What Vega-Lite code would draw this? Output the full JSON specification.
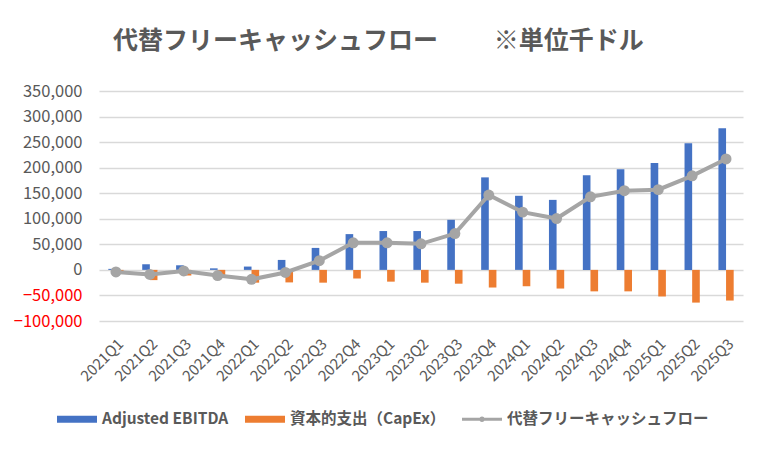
{
  "$schema": "https://vega.github.io/schema/vega-lite/v6.json",
  "width": 644,
  "height": 230,
  "autosize": "none",
  "padding": {"left": 99, "top": 91, "right": 24, "bottom": 131},
  "background": "white",
  "config": {
    "font": "Noto Sans CJK JP",
    "view": {"stroke": null}
  },
  "title": {
    "text": "代替フリーキャッシュフロー　　 ※単位千ドル",
    "anchor": "start",
    "frame": "group",
    "dx": 14,
    "offset": 29,
    "fontSize": 25,
    "fontWeight": "bold",
    "color": "#595959"
  },
  "datasets": {
    "bars": [
      {"q": "2021Q1", "series": "Adjusted EBITDA", "value": 2000},
      {"q": "2021Q1", "series": "資本的支出（CapEx）", "value": -6000},
      {"q": "2021Q2", "series": "Adjusted EBITDA", "value": 11000},
      {"q": "2021Q2", "series": "資本的支出（CapEx）", "value": -20000},
      {"q": "2021Q3", "series": "Adjusted EBITDA", "value": 9000},
      {"q": "2021Q3", "series": "資本的支出（CapEx）", "value": -11000},
      {"q": "2021Q4", "series": "Adjusted EBITDA", "value": 3000},
      {"q": "2021Q4", "series": "資本的支出（CapEx）", "value": -14000},
      {"q": "2022Q1", "series": "Adjusted EBITDA", "value": 6500},
      {"q": "2022Q1", "series": "資本的支出（CapEx）", "value": -25000},
      {"q": "2022Q2", "series": "Adjusted EBITDA", "value": 19500},
      {"q": "2022Q2", "series": "資本的支出（CapEx）", "value": -24500},
      {"q": "2022Q3", "series": "Adjusted EBITDA", "value": 43000},
      {"q": "2022Q3", "series": "資本的支出（CapEx）", "value": -25000},
      {"q": "2022Q4", "series": "Adjusted EBITDA", "value": 70000},
      {"q": "2022Q4", "series": "資本的支出（CapEx）", "value": -17000},
      {"q": "2023Q1", "series": "Adjusted EBITDA", "value": 76000},
      {"q": "2023Q1", "series": "資本的支出（CapEx）", "value": -23000},
      {"q": "2023Q2", "series": "Adjusted EBITDA", "value": 76000},
      {"q": "2023Q2", "series": "資本的支出（CapEx）", "value": -25000},
      {"q": "2023Q3", "series": "Adjusted EBITDA", "value": 98000},
      {"q": "2023Q3", "series": "資本的支出（CapEx）", "value": -27000},
      {"q": "2023Q4", "series": "Adjusted EBITDA", "value": 181000},
      {"q": "2023Q4", "series": "資本的支出（CapEx）", "value": -34500},
      {"q": "2024Q1", "series": "Adjusted EBITDA", "value": 145000},
      {"q": "2024Q1", "series": "資本的支出（CapEx）", "value": -32000},
      {"q": "2024Q2", "series": "Adjusted EBITDA", "value": 137000},
      {"q": "2024Q2", "series": "資本的支出（CapEx）", "value": -36500},
      {"q": "2024Q3", "series": "Adjusted EBITDA", "value": 185000},
      {"q": "2024Q3", "series": "資本的支出（CapEx）", "value": -42000},
      {"q": "2024Q4", "series": "Adjusted EBITDA", "value": 197000},
      {"q": "2024Q4", "series": "資本的支出（CapEx）", "value": -42000},
      {"q": "2025Q1", "series": "Adjusted EBITDA", "value": 209000},
      {"q": "2025Q1", "series": "資本的支出（CapEx）", "value": -52000},
      {"q": "2025Q2", "series": "Adjusted EBITDA", "value": 248000},
      {"q": "2025Q2", "series": "資本的支出（CapEx）", "value": -64000},
      {"q": "2025Q3", "series": "Adjusted EBITDA", "value": 277000},
      {"q": "2025Q3", "series": "資本的支出（CapEx）", "value": -60000}
    ],
    "fcf": [
      {"q": "2021Q1", "value": -4000},
      {"q": "2021Q2", "value": -9000},
      {"q": "2021Q3", "value": -2000},
      {"q": "2021Q4", "value": -11000},
      {"q": "2022Q1", "value": -18500},
      {"q": "2022Q2", "value": -5000},
      {"q": "2022Q3", "value": 18000},
      {"q": "2022Q4", "value": 53000},
      {"q": "2023Q1", "value": 53000},
      {"q": "2023Q2", "value": 51000},
      {"q": "2023Q3", "value": 71000},
      {"q": "2023Q4", "value": 146500},
      {"q": "2024Q1", "value": 113000},
      {"q": "2024Q2", "value": 100500},
      {"q": "2024Q3", "value": 143000},
      {"q": "2024Q4", "value": 155000},
      {"q": "2025Q1", "value": 157000},
      {"q": "2025Q2", "value": 184000},
      {"q": "2025Q3", "value": 217000}
    ]
  },
  "encoding": {
    "x": {
      "field": "q",
      "type": "ordinal",
      "sort": null,
      "title": null,
      "scale": {"paddingInner": 0.55, "paddingOuter": 0.275},
      "axis": {
        "labelAngle": -45,
        "labelFontSize": 15,
        "labelColor": "#595959",
        "labelPadding": 15,
        "ticks": false,
        "domain": false,
        "grid": false
      }
    },
    "y": {
      "field": "value",
      "type": "quantitative",
      "title": null,
      "scale": {"domain": [-100000, 350000], "nice": false, "zero": false},
      "axis": {
        "values": [-100000, -50000, 0, 50000, 100000, 150000, 200000, 250000, 300000, 350000],
        "format": ",.0f",
        "labelFontSize": 16.5,
        "labelColor": {"expr": "datum.value < 0 ? '#FF0000' : '#595959'"},
        "labelPadding": 17,
        "ticks": false,
        "domain": false,
        "gridColor": "#D9D9D9",
        "gridWidth": 1.3
      }
    }
  },
  "layer": [
    {
      "data": {"name": "bars"},
      "mark": {"type": "bar"},
      "encoding": {
        "xOffset": {
          "field": "series",
          "scale": {"domain": ["Adjusted EBITDA", "資本的支出（CapEx）"]}
        },
        "color": {
          "field": "series",
          "type": "nominal",
          "scale": {
            "domain": ["Adjusted EBITDA", "資本的支出（CapEx）", "代替フリーキャッシュフロー"],
            "range": ["#4472C4", "#ED7D31", "#A5A5A5"]
          },
          "legend": {
            "title": null,
            "orient": "none",
            "direction": "horizontal",
            "legendX": -42,
            "legendY": 308,
            "labelFontSize": 15.5,
            "labelFontWeight": "bold",
            "labelColor": "#595959",
            "labelOffset": 5,
            "labelLimit": 400,
            "columnPadding": 16,
            "symbolSize": 1600,
            "encode": {
              "symbols": {
                "update": {
                  "shape": {"signal": "datum.value === '代替フリーキャッシュフロー' ? 'M-1,-0.07H1V0.07H-1Z M0.14,0A0.14,0.14 0 1,1 -0.14,0A0.14,0.14 0 1,1 0.14,0Z' : 'M-1,-0.18H1V0.18H-1Z'"},
                  "strokeWidth": {"value": 0}
                }
              }
            }
          }
        }
      }
    },
    {
      "data": {"name": "fcf"},
      "mark": {
        "type": "line",
        "color": "#A5A5A5",
        "strokeWidth": 4,
        "point": {"filled": true, "size": 120, "color": "#A5A5A5"}
      },
      "encoding": {}
    }
  ]
}
